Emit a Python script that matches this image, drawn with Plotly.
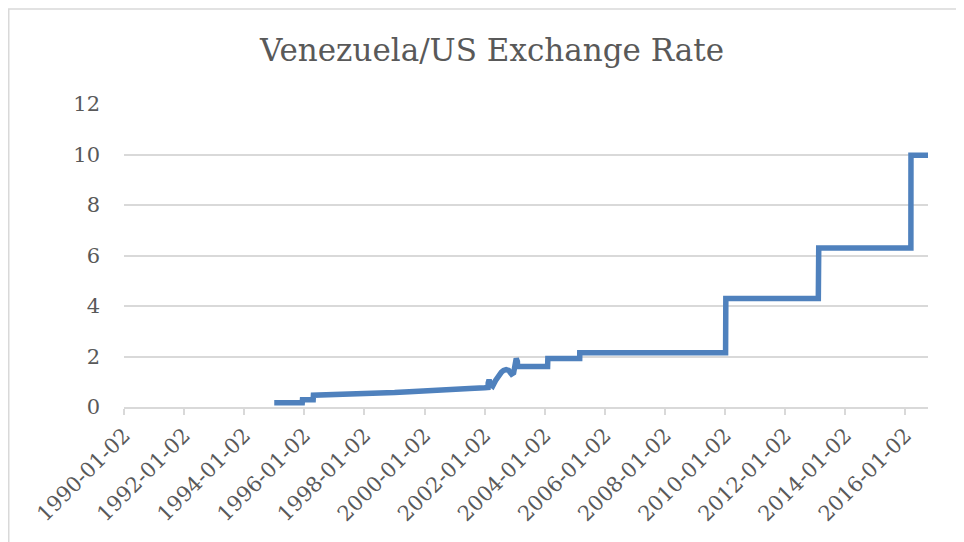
import plotly.graph_objects as go

# Venezuela / US exchange rate (thousand Bs per USD as plotted)
dates = [
    "1995-01-02", "1995-12-08", "1995-12-11", "1996-04-19", "1996-04-22",
    "1996-07-01", "1997-01-02", "1997-07-01", "1998-01-02", "1998-07-01",
    "1999-01-04", "1999-07-01", "2000-01-03", "2000-07-03", "2001-01-02",
    "2001-07-02", "2002-01-02", "2002-02-12", "2002-02-14", "2002-02-25",
    "2002-03-15", "2002-04-10", "2002-05-15", "2002-06-20", "2002-07-25",
    "2002-08-20", "2002-09-20", "2002-10-20", "2002-11-25", "2002-12-20",
    "2003-01-10", "2003-01-21", "2003-02-04", "2003-02-06", "2004-02-06",
    "2004-02-09", "2005-03-02", "2005-03-03", "2010-01-08", "2010-01-11",
    "2013-02-08", "2013-02-13", "2016-03-09", "2016-03-10", "2016-10-03",
]
rates = [
    0.170, 0.170, 0.290, 0.290, 0.470,
    0.475, 0.480, 0.495, 0.510, 0.545,
    0.570, 0.605, 0.649, 0.680, 0.700,
    0.730, 0.758, 0.770, 0.950, 1.080,
    0.900, 0.830, 1.050, 1.250, 1.380,
    1.450, 1.480, 1.450, 1.300, 1.350,
    1.650, 1.920, 1.800, 1.600, 1.600,
    1.920, 1.920, 2.150, 2.150, 4.300,
    4.300, 6.300, 6.300, 9.975, 9.975,
]

x_ticks = ["1990-01-02", "1992-01-02", "1994-01-02", "1996-01-02", "1998-01-02",
           "2000-01-02", "2002-01-02", "2004-01-02", "2006-01-02", "2008-01-02",
           "2010-01-02", "2012-01-02", "2014-01-02", "2016-01-02"]
y_ticks = [0, 2, 4, 6, 8, 10, 12]

FONT = "DejaVu Serif"
GREY = "#595959"
GRID = "#d9d9d9"

fig = go.Figure()
fig.add_trace(go.Scatter(
    x=dates, y=rates, mode="lines",
    line=dict(color="#4f81bd", width=5.5),
    hoverinfo="x+y", showlegend=False,
))

# page body has an 8px margin, so layout is offset accordingly
OFF = 8
W, H = 964, 542
L, R, T, B = 124 - OFF, 964 - (928 - OFF), 104 - OFF, 542 - (407.5 - OFF)
pw, ph = W - L - R, H - T - B

fig.update_layout(
    width=W, height=H,
    margin=dict(l=L, r=R, t=T, b=B, autoexpand=False),
    paper_bgcolor="white", plot_bgcolor="white",
    title=dict(text="Venezuela/US Exchange Rate", x=(492 - OFF) / W, xref="container",
               y=1 - (50 - OFF) / H, yref="container", xanchor="center", yanchor="middle",
               font=dict(family=FONT, size=31, color=GREY)),
    font=dict(family=FONT, color=GREY),
    xaxis=dict(
        type="date", range=["1990-01-02", "2016-10-03"], automargin=False,
        tickvals=x_ticks, ticktext=x_ticks, tickangle=-45,
        showgrid=False, showline=True, linecolor=GRID, linewidth=1.5,
        ticks="outside", ticklen=6, tickcolor=GRID, tickwidth=1.5,
        tickfont=dict(family=FONT, size=21, color=GREY),
        zeroline=False,
    ),
    yaxis=dict(
        range=[0, 12], tickvals=y_ticks, showgrid=True, gridcolor=GRID, gridwidth=1.5,
        showline=False, zeroline=False, ticks="", automargin=False,
        tickfont=dict(family=FONT, size=21, color=GREY),
        ticklabelstandoff=23,
    ),
    shapes=[dict(
        type="rect", xref="paper", yref="paper",
        x0=(0.75 - L) / pw, x1=(980 - OFF - L) / pw,
        y0=(H - B - 560) / ph, y1=(H - B - 0.75) / ph,
        line=dict(color=GRID, width=1.5), fillcolor="rgba(0,0,0,0)", layer="below",
    )],
)

fig.write_html("out.html")
